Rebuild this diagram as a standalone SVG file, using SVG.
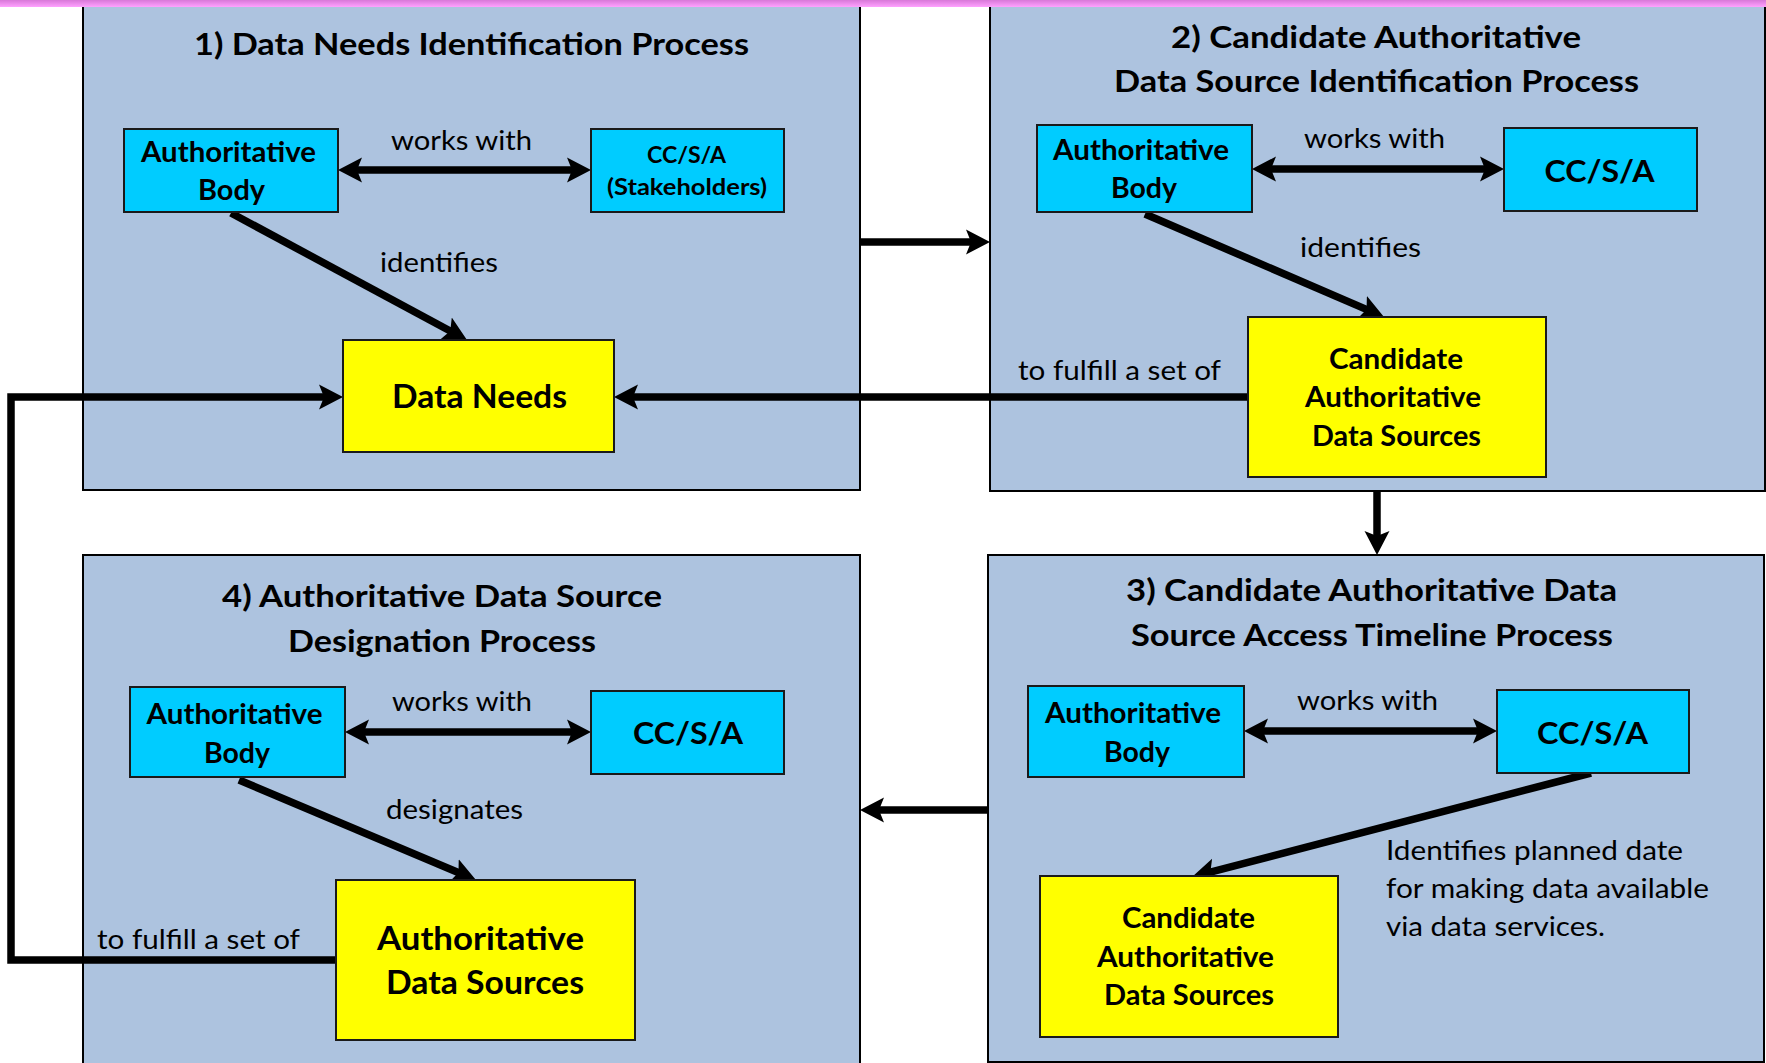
<svg xmlns="http://www.w3.org/2000/svg" width="1766" height="1063" viewBox="0 0 1766 1063">
<style>
.proc{fill:#ADC3DF;stroke:#000;stroke-width:2}
.ab{fill:#00CCFF;stroke:#1a1a1a;stroke-width:2}
.yl{fill:#FFFF00;stroke:#1a1a1a;stroke-width:2}
.t{font-family:Lato,"Liberation Sans",sans-serif;fill:#000}
.b{font-weight:bold}
.c{text-anchor:middle}
.title{font-size:30px}
.nd{font-size:28px}
.lab{font-size:26px}
.con{fill:none;stroke:#000;stroke-width:7.5;stroke-linejoin:miter}
</style>
<defs>
<linearGradient id="pink" x1="0" y1="0" x2="0" y2="1">
<stop offset="0" stop-color="#D878D8"/>
<stop offset="1" stop-color="#FFA2FF"/>
</linearGradient>
<marker id="ah" markerUnits="userSpaceOnUse" markerWidth="26" markerHeight="28" viewBox="0 -14 26 28" refX="6" refY="0" orient="auto-start-reverse">
<path d="M0,-12.5 L24,0 L0,12.5 L5,0 Z" fill="#000"/>
</marker>
</defs>
<rect width="1766" height="1063" fill="#fff"/>

<g id="process1">
<rect class="proc" x="83" y="-2" width="777" height="492"/>
<text class="t b c title" x="471.5" y="55" textLength="555" lengthAdjust="spacingAndGlyphs">1) Data Needs Identification Process</text>
</g>
<g id="process2">
<rect class="proc" x="990" y="-2" width="775" height="493"/>
<text class="t b c title" x="1376" y="48" textLength="410" lengthAdjust="spacingAndGlyphs">2) Candidate Authoritative</text>
<text class="t b c title" x="1376.5" y="92" textLength="525" lengthAdjust="spacingAndGlyphs">Data Source Identification Process</text>
</g>
<g id="process3">
<rect class="proc" x="988" y="555" width="776" height="507" stroke="#333"/>
<text class="t b c title" x="1371.5" y="601" textLength="491" lengthAdjust="spacingAndGlyphs">3) Candidate Authoritative Data</text>
<text class="t b c title" x="1372" y="646" textLength="482" lengthAdjust="spacingAndGlyphs">Source Access Timeline Process</text>
</g>
<g id="process4">
<rect class="proc" x="83" y="555" width="777" height="520"/>
<text class="t b c title" x="442" y="607" textLength="440" lengthAdjust="spacingAndGlyphs">4) Authoritative Data Source</text>
<text class="t b c title" x="442" y="652" textLength="308" lengthAdjust="spacingAndGlyphs">Designation Process</text>
</g>

<g id="connectors">
<!-- process to process -->
<path class="con" d="M860,242 H972" marker-end="url(#ah)"/>
<path class="con" d="M1377,492 V537" marker-end="url(#ah)"/>
<path class="con" d="M988,810 H878" marker-end="url(#ah)"/>
<!-- fulfill links -->
<path class="con" d="M1248,397 H632" marker-end="url(#ah)"/>
<path class="con" d="M336,960 H11 V397 H325" marker-end="url(#ah)"/>
<!-- works with -->
<path class="con" d="M356,170 H573" marker-start="url(#ah)" marker-end="url(#ah)"/>
<path class="con" d="M1270,169 H1486" marker-start="url(#ah)" marker-end="url(#ah)"/>
<path class="con" d="M1262,731 H1479" marker-start="url(#ah)" marker-end="url(#ah)"/>
<path class="con" d="M363,732 H573" marker-start="url(#ah)" marker-end="url(#ah)"/>
<!-- identifies / designates -->
<path class="con" d="M231,213 L451.15,331.47" marker-end="url(#ah)"/>
<path class="con" d="M1145,214 L1367.47,309.88" marker-end="url(#ah)"/>
<path class="con" d="M1591,773 L1209.42,872.46" marker-end="url(#ah)"/>
<path class="con" d="M239,780 L459.41,873" marker-end="url(#ah)"/>
<!-- connector labels -->
<text class="t c lab" x="461.5" y="150" textLength="141" lengthAdjust="spacingAndGlyphs">works with</text>
<text class="t c lab" x="439" y="272" textLength="118" lengthAdjust="spacingAndGlyphs">identifies</text>
<text class="t c lab" x="1374.5" y="148" textLength="141" lengthAdjust="spacingAndGlyphs">works with</text>
<text class="t c lab" x="1360.5" y="257" textLength="121" lengthAdjust="spacingAndGlyphs">identifies</text>
<text class="t c lab" x="1119.5" y="380" textLength="203" lengthAdjust="spacingAndGlyphs">to fulfill a set of</text>
<text class="t c lab" x="1367.5" y="710" textLength="141" lengthAdjust="spacingAndGlyphs">works with</text>
<text class="t lab" x="1386" y="860" textLength="297" lengthAdjust="spacingAndGlyphs">Identifies planned date</text>
<text class="t lab" x="1386" y="898" textLength="323" lengthAdjust="spacingAndGlyphs">for making data available</text>
<text class="t lab" x="1386" y="936" textLength="219" lengthAdjust="spacingAndGlyphs">via data services.</text>
<text class="t c lab" x="462" y="711" textLength="140" lengthAdjust="spacingAndGlyphs">works with</text>
<text class="t c lab" x="454.5" y="819" textLength="137" lengthAdjust="spacingAndGlyphs">designates</text>
<text class="t c lab" x="198.5" y="949" textLength="203" lengthAdjust="spacingAndGlyphs">to fulfill a set of</text>
</g>

<g id="ab1">
<rect class="ab" x="124" y="129" width="214" height="83"/>
<text class="t b c nd" x="228.5" y="162" textLength="175" lengthAdjust="spacingAndGlyphs">Authoritative</text>
<text class="t b c nd" x="231.5" y="200" textLength="67" lengthAdjust="spacingAndGlyphs">Body</text>
</g>
<g id="ccsa1">
<rect class="ab" x="591" y="129" width="193" height="83"/>
<text class="t b c" font-size="23" x="686.5" y="163" textLength="79" lengthAdjust="spacingAndGlyphs">CC/S/A</text>
<text class="t b c" font-size="23" x="687" y="195" textLength="160" lengthAdjust="spacingAndGlyphs">(Stakeholders)</text>
</g>
<g id="dataneeds">
<rect class="yl" x="343" y="340" width="271" height="112"/>
<text class="t b c" font-size="32" x="479.5" y="408" textLength="175" lengthAdjust="spacingAndGlyphs">Data Needs</text>
</g>

<g id="ab2">
<rect class="ab" x="1037" y="125" width="215" height="87"/>
<text class="t b c nd" x="1141" y="160" textLength="176" lengthAdjust="spacingAndGlyphs">Authoritative</text>
<text class="t b c nd" x="1144" y="198" textLength="66" lengthAdjust="spacingAndGlyphs">Body</text>
</g>
<g id="ccsa2">
<rect class="ab" x="1504" y="128" width="193" height="83"/>
<text class="t b c" font-size="31" x="1599.5" y="182" textLength="110" lengthAdjust="spacingAndGlyphs">CC/S/A</text>
</g>
<g id="cads2">
<rect class="yl" x="1248" y="317" width="298" height="160"/>
<text class="t b c nd" x="1396" y="369" textLength="134" lengthAdjust="spacingAndGlyphs">Candidate</text>
<text class="t b c nd" x="1393" y="407" textLength="176" lengthAdjust="spacingAndGlyphs">Authoritative</text>
<text class="t b c nd" x="1396.5" y="446" textLength="169" lengthAdjust="spacingAndGlyphs">Data Sources</text>
</g>

<g id="ab3">
<rect class="ab" x="1028" y="686" width="216" height="91"/>
<text class="t b c nd" x="1133" y="723" textLength="176" lengthAdjust="spacingAndGlyphs">Authoritative</text>
<text class="t b c nd" x="1137" y="762" textLength="66" lengthAdjust="spacingAndGlyphs">Body</text>
</g>
<g id="ccsa3">
<rect class="ab" x="1497" y="690" width="192" height="83"/>
<text class="t b c" font-size="31" x="1592.5" y="744" textLength="111" lengthAdjust="spacingAndGlyphs">CC/S/A</text>
</g>
<g id="cads3">
<rect class="yl" x="1040" y="876" width="298" height="161"/>
<text class="t b c nd" x="1188.5" y="928" textLength="133" lengthAdjust="spacingAndGlyphs">Candidate</text>
<text class="t b c nd" x="1185.5" y="967" textLength="177" lengthAdjust="spacingAndGlyphs">Authoritative</text>
<text class="t b c nd" x="1189" y="1005" textLength="170" lengthAdjust="spacingAndGlyphs">Data Sources</text>
</g>

<g id="ab4">
<rect class="ab" x="130" y="687" width="215" height="90"/>
<text class="t b c nd" x="234.5" y="724" textLength="176" lengthAdjust="spacingAndGlyphs">Authoritative</text>
<text class="t b c nd" x="237" y="763" textLength="66" lengthAdjust="spacingAndGlyphs">Body</text>
</g>
<g id="ccsa4">
<rect class="ab" x="591" y="691" width="193" height="83"/>
<text class="t b c" font-size="31" x="688" y="744" textLength="110" lengthAdjust="spacingAndGlyphs">CC/S/A</text>
</g>
<g id="ads4">
<rect class="yl" x="336" y="880" width="299" height="160"/>
<text class="t b c" font-size="32" x="480.5" y="950" textLength="207" lengthAdjust="spacingAndGlyphs">Authoritative</text>
<text class="t b c" font-size="32" x="485" y="994" textLength="198" lengthAdjust="spacingAndGlyphs">Data Sources</text>
</g>

<rect id="topbar" x="0" y="0" width="1766" height="7" fill="url(#pink)"/>
</svg>
